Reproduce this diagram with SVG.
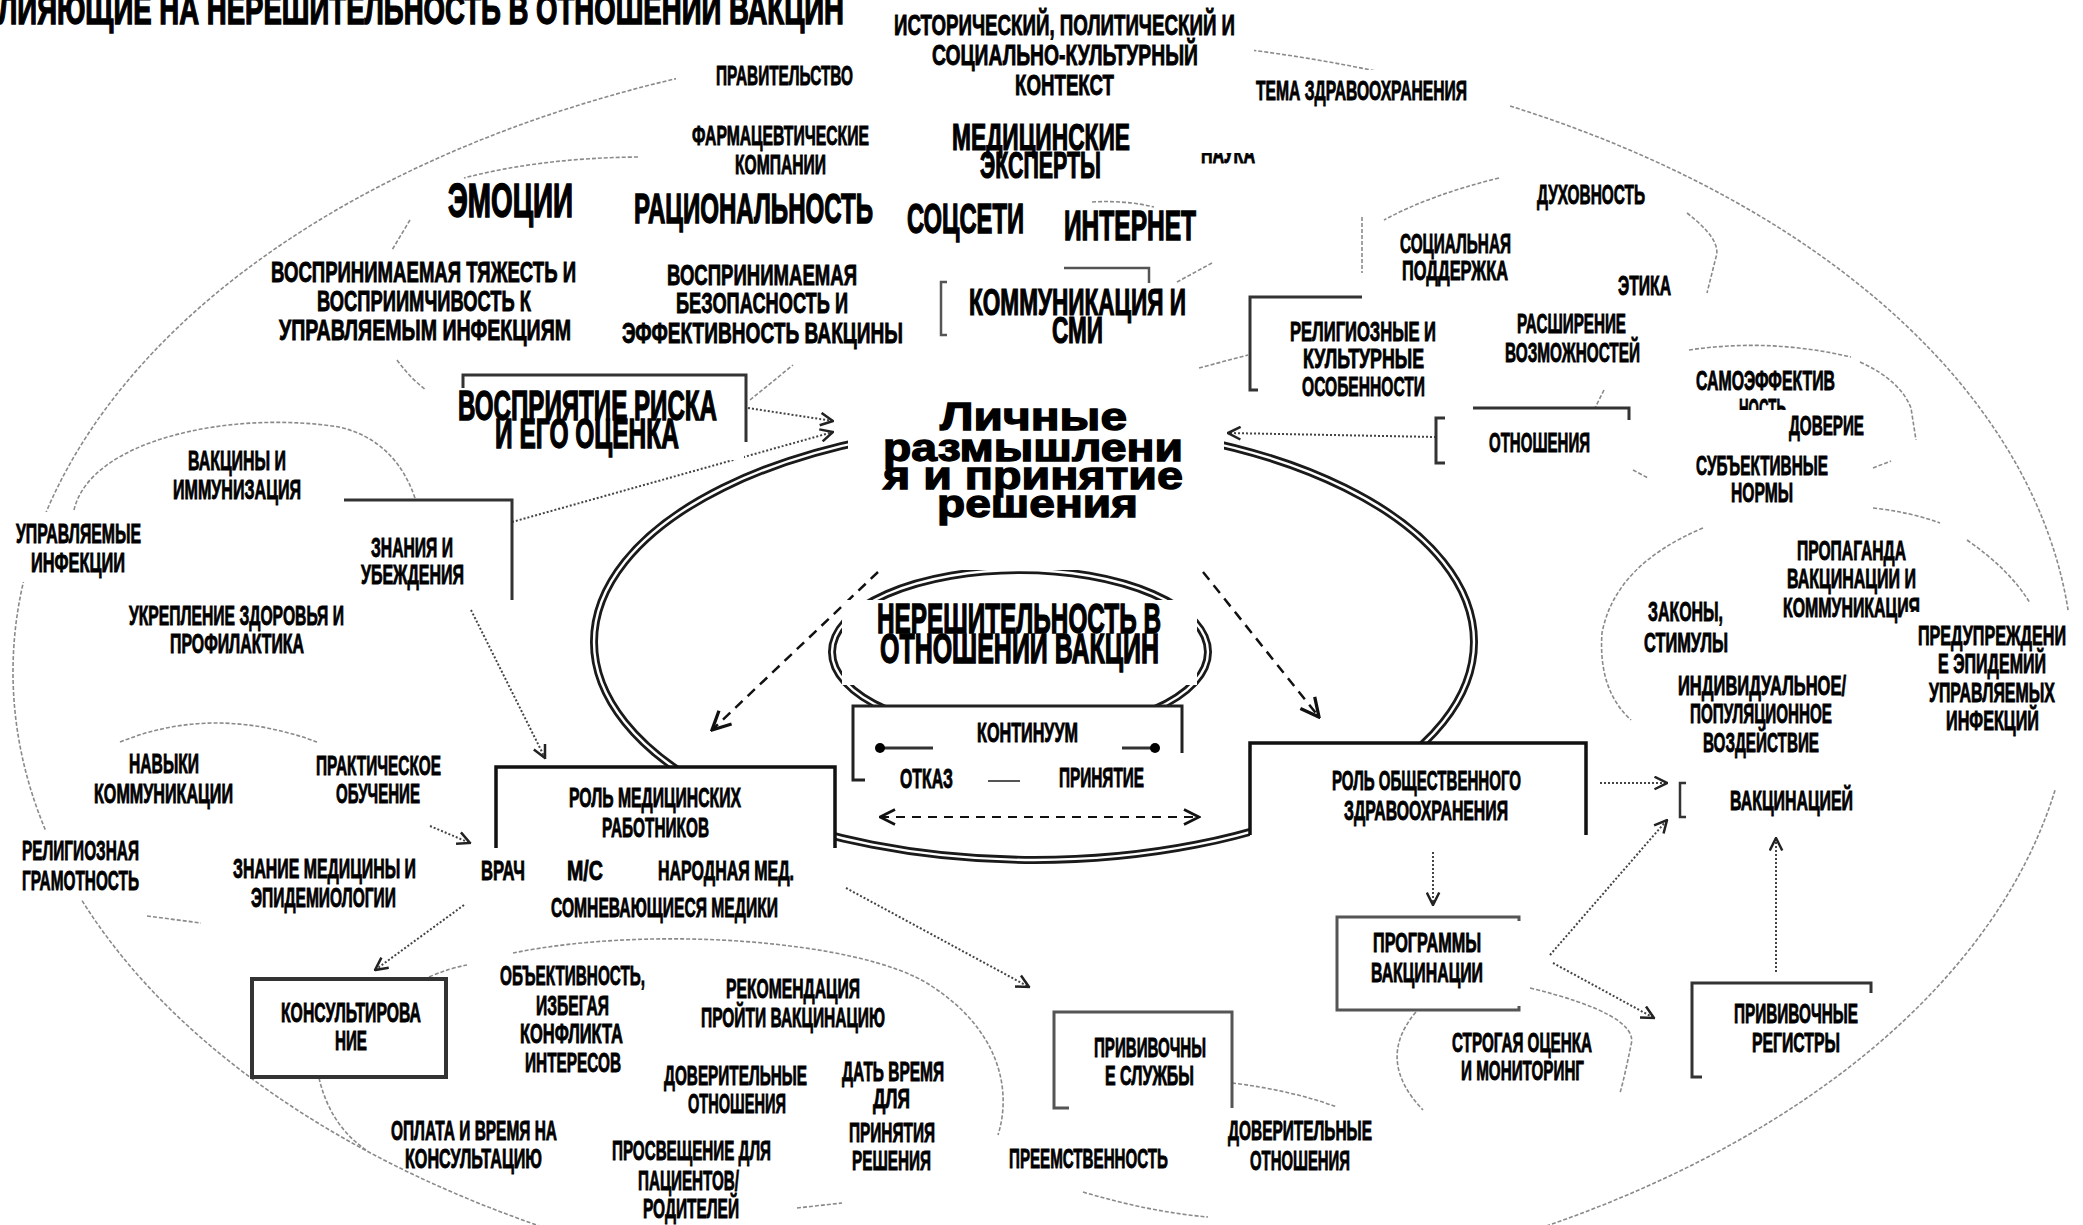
<svg xmlns="http://www.w3.org/2000/svg" width="2083" height="1225" viewBox="0 0 2083 1225">
<defs>
<style>
.t{font-family:'Liberation Sans',Arial,sans-serif;font-weight:700;fill:#000;stroke:#000;stroke-width:0.9}
.s{font-size:27px}.m{font-size:30px}.b{font-size:37px;stroke-width:1.2}.l{font-size:42px;stroke-width:1.4}.xl{font-size:48px;stroke-width:1.6}
.p{font-family:'Liberation Sans',Arial,sans-serif;font-weight:700;font-size:39px;fill:#000;stroke:#000;stroke-width:1.3}
.bg{fill:#fff}
.lay{fill:none;stroke:#8a8a8a;stroke-width:1.6;stroke-dasharray:4 2}
.dot{fill:none;stroke:#444;stroke-width:2;stroke-dasharray:2 2}
.dsh{fill:none;stroke:#111;stroke-width:2.5;stroke-dasharray:10 7}
.ln{fill:none;stroke:#111;stroke-width:3.5}
.gl{fill:none;stroke:#555;stroke-width:2.5}
.dbl{fill:none;stroke:#1a1a1a;stroke-width:8}
.dbi{fill:none;stroke:#fff;stroke-width:2.4}
</style>
<marker id="ah" viewBox="0 0 12 12" refX="11" refY="6" markerWidth="15" markerHeight="15" markerUnits="userSpaceOnUse" orient="auto"><path d="M1,1 L11,6 L1,11" fill="none" stroke="#222" stroke-width="2"/></marker>
<marker id="ahL" viewBox="0 0 12 12" refX="11" refY="6" markerWidth="22" markerHeight="22" markerUnits="userSpaceOnUse" orient="auto"><path d="M1,1 L11,6 L1,11" fill="none" stroke="#111" stroke-width="1.8"/></marker>
<marker id="ahD" viewBox="0 0 12 12" refX="11" refY="6" markerWidth="18" markerHeight="18" markerUnits="userSpaceOnUse" orient="auto-start-reverse"><path d="M1,1 L11,6 L1,11" fill="none" stroke="#111" stroke-width="1.8"/></marker>
<clipPath id="cNauka"><rect x="1195" y="153" width="70" height="15"/></clipPath>
<clipPath id="cNost"><rect x="1730" y="396" width="70" height="14"/></clipPath>
</defs>
<rect width="2083" height="1225" fill="#fff"/>

<g id="layers">
<ellipse class="lay" cx="1043" cy="672" rx="1030" ry="635"/>
<path class="lay" d="M638,157 Q540,158 464,178"/>
<path class="lay" d="M410,220 L392,250"/>
<path class="lay" d="M397,360 Q410,378 426,390"/>
<path class="lay" d="M74,510 C90,440 230,410 339,427 Q395,440 415,498"/>
<path class="lay" d="M120,742 Q214,704 317,742"/>
<path class="lay" d="M147,916 L201,923"/>
<path class="lay" d="M319,1078 Q330,1125 366,1150"/>
<path class="lay" d="M429,977 Q450,968 467,965"/>
<path class="lay" d="M513,953 C650,925 860,940 930,985 C1000,1030 1012,1090 998,1135"/>
<path class="lay" d="M1232,1083 Q1290,1090 1337,1107"/>
<path class="lay" d="M1083,1192 Q1150,1212 1208,1217"/>
<path class="lay" d="M797,1208 L842,1203"/>
<path class="lay" d="M1416,1012 Q1375,1060 1423,1110"/>
<path class="lay" d="M1530,988 Q1640,1015 1631,1045 Q1625,1075 1620,1093"/>
<path class="lay" d="M1703,528 Q1615,565 1602,633 Q1598,690 1631,720"/>
<path class="lay" d="M1873,508 Q1910,512 1940,523"/>
<path class="lay" d="M1967,540 Q2010,570 2030,603"/>
<path class="lay" d="M1633,470 L1648,478"/>
<path class="lay" d="M1873,468 L1891,461"/>
<path class="lay" d="M1860,362 Q1900,380 1911,408 L1916,440"/>
<path class="lay" d="M1689,350 Q1770,338 1851,357"/>
<path class="lay" d="M1499,178 Q1430,195 1384,220"/>
<path class="lay" d="M1687,213 Q1722,240 1716,257 L1707,293"/>
<path class="lay" d="M1604,390 L1595,408"/>
<path class="lay" d="M1092,202 Q1125,200 1154,207"/>
<path class="lay" d="M1212,263 L1177,282"/>
<path class="lay" d="M1362,217 L1362,273"/>
<path class="lay" d="M1199,368 L1248,355"/>
<path class="lay" d="M750,400 L793,365"/>
</g>

<g id="frame">
<ellipse class="dbl" cx="1034" cy="642" rx="440" ry="218"/>
<ellipse class="dbi" cx="1034" cy="642" rx="440" ry="218"/>
<ellipse class="dbl" cx="1020" cy="652" rx="188" ry="82"/>
<ellipse class="dbi" cx="1020" cy="652" rx="188" ry="82"/>
</g>

<g id="connectors">
<path class="dsh" d="M878,572 L712,730" marker-end="url(#ahL)"/>
<path class="dsh" d="M1203,572 L1319,717" marker-end="url(#ahL)"/>
<path class="dsh" d="M880,817 L1199,817" style="stroke-width:2;stroke-dasharray:9 7" marker-start="url(#ahD)" marker-end="url(#ahD)"/>
<path class="dot" d="M748,408 L833,421" marker-end="url(#ah)"/>
<path class="dot" d="M512,522 L833,432" marker-end="url(#ah)"/>
<path class="dot" d="M1436,437 L1228,433" marker-end="url(#ah)"/>
<path class="dot" d="M471,610 L545,758" marker-end="url(#ah)"/>
<path class="dot" d="M430,826 L470,843" marker-end="url(#ah)"/>
<path class="dot" d="M464,905 L375,970" marker-end="url(#ah)"/>
<path class="dot" d="M846,888 L1029,987" marker-end="url(#ah)"/>
<path class="dot" d="M1600,783 L1667,783" marker-end="url(#ah)"/>
<path class="dot" d="M1433,852 L1433,905" marker-end="url(#ah)"/>
<path class="dot" d="M1550,955 L1667,820" marker-end="url(#ah)"/>
<path class="dot" d="M1553,963 L1654,1018" marker-end="url(#ah)"/>
<path class="dot" d="M1776,972 L1776,838" marker-end="url(#ah)"/>
</g>

<g id="n-context">
<rect class="bg" x="676" y="0" width="578" height="112"/>
<text class="t m" x="894" y="35" textLength="341" lengthAdjust="spacingAndGlyphs">ИСТОРИЧЕСКИЙ, ПОЛИТИЧЕСКИЙ И</text>
<text class="t m" x="932" y="65" textLength="266" lengthAdjust="spacingAndGlyphs">СОЦИАЛЬНО-КУЛЬТУРНЫЙ</text>
<text class="t m" x="1015" y="95" textLength="99" lengthAdjust="spacingAndGlyphs">КОНТЕКСТ</text>
</g>
<g id="n-title"><text class="t l" x="-2" y="24" textLength="846" lengthAdjust="spacingAndGlyphs">ЛИЯЮЩИЕ НА НЕРЕШИТЕЛЬНОСТЬ В ОТНОШЕНИИ ВАКЦИН</text></g>
<g id="n-gov"><text class="t s" x="716" y="85" textLength="137" lengthAdjust="spacingAndGlyphs">ПРАВИТЕЛЬСТВО</text></g>
<g id="n-topic"><rect class="bg" x="1345" y="70" width="165" height="45"/><text class="t s" x="1256" y="100" textLength="211" lengthAdjust="spacingAndGlyphs">ТЕМА ЗДРАВООХРАНЕНИЯ</text></g>
<g id="n-pharma">
<text class="t s" x="692" y="145" textLength="177" lengthAdjust="spacingAndGlyphs">ФАРМАЦЕВТИЧЕСКИЕ</text>
<text class="t s" x="735" y="174" textLength="91" lengthAdjust="spacingAndGlyphs">КОМПАНИИ</text>
</g>
<g id="n-experts">
<text class="t b" x="952" y="150" textLength="178" lengthAdjust="spacingAndGlyphs">МЕДИЦИНСКИЕ</text>
<text class="t b" x="980" y="178" textLength="121" lengthAdjust="spacingAndGlyphs">ЭКСПЕРТЫ</text>
</g>
<g id="n-science" clip-path="url(#cNauka)"><text class="t s" x="1201" y="163" textLength="54" lengthAdjust="spacingAndGlyphs">НАУКА</text></g>
<g id="n-emotions"><text class="t xl" x="448" y="217" textLength="125" lengthAdjust="spacingAndGlyphs">ЭМОЦИИ</text></g>
<g id="n-rational"><text class="t l" x="634" y="223" textLength="239" lengthAdjust="spacingAndGlyphs">РАЦИОНАЛЬНОСТЬ</text></g>
<g id="n-social"><text class="t l" x="907" y="233" textLength="117" lengthAdjust="spacingAndGlyphs">СОЦСЕТИ</text></g>
<g id="n-internet"><text class="t l" x="1064" y="240" textLength="132" lengthAdjust="spacingAndGlyphs">ИНТЕРНЕТ</text></g>
<g id="n-spirit"><text class="t s" x="1537" y="204" textLength="108" lengthAdjust="spacingAndGlyphs">ДУХОВНОСТЬ</text></g>
<g id="n-support">
<text class="t s" x="1400" y="253" textLength="111" lengthAdjust="spacingAndGlyphs">СОЦИАЛЬНАЯ</text>
<text class="t s" x="1402" y="280" textLength="106" lengthAdjust="spacingAndGlyphs">ПОДДЕРЖКА</text>
</g>
<g id="n-ethics"><text class="t s" x="1618" y="295" textLength="53" lengthAdjust="spacingAndGlyphs">ЭТИКА</text></g>
<g id="n-severity">
<text class="t m" x="271" y="282" textLength="305" lengthAdjust="spacingAndGlyphs">ВОСПРИНИМАЕМАЯ ТЯЖЕСТЬ И</text>
<text class="t m" x="317" y="311" textLength="214" lengthAdjust="spacingAndGlyphs">ВОСПРИИМЧИВОСТЬ К</text>
<text class="t m" x="279" y="340" textLength="292" lengthAdjust="spacingAndGlyphs">УПРАВЛЯЕМЫМ ИНФЕКЦИЯМ</text>
</g>
<g id="n-safety">
<text class="t m" x="667" y="285" textLength="190" lengthAdjust="spacingAndGlyphs">ВОСПРИНИМАЕМАЯ</text>
<text class="t m" x="676" y="313" textLength="172" lengthAdjust="spacingAndGlyphs">БЕЗОПАСНОСТЬ И</text>
<text class="t m" x="622" y="343" textLength="281" lengthAdjust="spacingAndGlyphs">ЭФФЕКТИВНОСТЬ ВАКЦИНЫ</text>
</g>
<g id="n-media">
<path class="gl" d="M947,282 H941 V335 H947 M1064,268 H1149 V283"/>
<text class="t b" x="969" y="315" textLength="217" lengthAdjust="spacingAndGlyphs">КОММУНИКАЦИЯ И</text>
<text class="t b" x="1052" y="343" textLength="51" lengthAdjust="spacingAndGlyphs">СМИ</text>
</g>
<g id="n-religion">
<path class="ln" style="stroke:#333;stroke-width:3" d="M1258,390 H1250 V297 H1362"/>
<text class="t s" x="1290" y="341" textLength="146" lengthAdjust="spacingAndGlyphs">РЕЛИГИОЗНЫЕ И</text>
<text class="t s" x="1303" y="368" textLength="121" lengthAdjust="spacingAndGlyphs">КУЛЬТУРНЫЕ</text>
<text class="t s" x="1302" y="396" textLength="123" lengthAdjust="spacingAndGlyphs">ОСОБЕННОСТИ</text>
</g>
<g id="n-empower">
<text class="t s" x="1517" y="333" textLength="109" lengthAdjust="spacingAndGlyphs">РАСШИРЕНИЕ</text>
<text class="t s" x="1505" y="362" textLength="135" lengthAdjust="spacingAndGlyphs">ВОЗМОЖНОСТЕЙ</text>
</g>
<g id="n-selfeff">
<text class="t s" x="1696" y="390" textLength="139" lengthAdjust="spacingAndGlyphs">САМОЭФФЕКТИВ</text>
<g clip-path="url(#cNost)"><text class="t s" x="1739" y="418" textLength="47" lengthAdjust="spacingAndGlyphs">НОСТЬ</text></g>
</g>
<g id="n-trust"><text class="t s" x="1789" y="435" textLength="75" lengthAdjust="spacingAndGlyphs">ДОВЕРИЕ</text></g>
<g id="n-norms">
<text class="t s" x="1696" y="475" textLength="132" lengthAdjust="spacingAndGlyphs">СУБЪЕКТИВНЫЕ</text>
<text class="t s" x="1731" y="502" textLength="62" lengthAdjust="spacingAndGlyphs">НОРМЫ</text>
</g>
<g id="n-attitudes">
<path class="ln" style="stroke:#333;stroke-width:3" d="M1445,418 H1436 V463 H1445 M1473,408 H1629 V420"/>
<text class="t s" x="1489" y="452" textLength="101" lengthAdjust="spacingAndGlyphs">ОТНОШЕНИЯ</text>
</g>
<g id="n-risk">
<path class="ln" style="stroke:#333;stroke-width:3" d="M463,388 V375 H746 V442"/>
<rect class="bg" x="453" y="388" width="291" height="72"/>
<text class="t l" x="458" y="420" textLength="259" lengthAdjust="spacingAndGlyphs">ВОСПРИЯТИЕ РИСКА</text>
<text class="t l" x="495" y="448" textLength="184" lengthAdjust="spacingAndGlyphs">И ЕГО ОЦЕНКА</text>
</g>
<g id="n-personal">
<rect class="bg" x="848" y="392" width="376" height="178"/>
<text class="p" x="940" y="430" textLength="187" lengthAdjust="spacingAndGlyphs">Личные</text>
<text class="p" x="883" y="461" textLength="300" lengthAdjust="spacingAndGlyphs">размышлени</text>
<text class="p" x="883" y="489" textLength="300" lengthAdjust="spacingAndGlyphs">я и принятие</text>
<text class="p" x="937" y="517" textLength="201" lengthAdjust="spacingAndGlyphs">решения</text>
</g>
<g id="n-vaccines">
<text class="t s" x="188" y="470" textLength="98" lengthAdjust="spacingAndGlyphs">ВАКЦИНЫ И</text>
<text class="t s" x="173" y="499" textLength="128" lengthAdjust="spacingAndGlyphs">ИММУНИЗАЦИЯ</text>
</g>
<g id="n-vpd">
<rect class="bg" x="8" y="512" width="145" height="70"/>
<text class="t s" x="16" y="543" textLength="125" lengthAdjust="spacingAndGlyphs">УПРАВЛЯЕМЫЕ</text>
<text class="t s" x="31" y="572" textLength="94" lengthAdjust="spacingAndGlyphs">ИНФЕКЦИИ</text>
</g>
<g id="n-knowledge">
<path class="ln" style="stroke:#333;stroke-width:3" d="M344,500 H512 V600"/>
<text class="t s" x="371" y="557" textLength="82" lengthAdjust="spacingAndGlyphs">ЗНАНИЯ И</text>
<text class="t s" x="361" y="584" textLength="103" lengthAdjust="spacingAndGlyphs">УБЕЖДЕНИЯ</text>
</g>
<g id="n-promotion">
<text class="t s" x="129" y="625" textLength="215" lengthAdjust="spacingAndGlyphs">УКРЕПЛЕНИЕ ЗДОРОВЬЯ И</text>
<text class="t s" x="170" y="653" textLength="134" lengthAdjust="spacingAndGlyphs">ПРОФИЛАКТИКА</text>
</g>
<g id="n-hesitancy">
<rect class="bg" x="842" y="600" width="355" height="85"/>
<text class="t l" x="877" y="633" textLength="284" lengthAdjust="spacingAndGlyphs">НЕРЕШИТЕЛЬНОСТЬ В</text>
<text class="t l" x="880" y="663" textLength="279" lengthAdjust="spacingAndGlyphs">ОТНОШЕНИИ ВАКЦИН</text>
</g>
<g id="n-continuum">
<rect class="bg" x="853" y="706" width="329" height="74"/>
<path class="ln" style="stroke:#222;stroke-width:3" d="M865,780 H853 V706 H1182 V780"/>
<path d="M880,748 H1155" stroke="#333" stroke-width="3"/>
<circle cx="880" cy="748" r="5"/><circle cx="1155" cy="748" r="5"/>
<rect class="bg" x="933" y="712" width="189" height="40"/>
<text class="t s" x="977" y="742" textLength="101" lengthAdjust="spacingAndGlyphs">КОНТИНУУМ</text>
<rect class="bg" x="865" y="753" width="325" height="40"/>
<text class="t s" x="900" y="788" textLength="53" lengthAdjust="spacingAndGlyphs">ОТКАЗ</text>
<path d="M988,781 H1020" stroke="#555" stroke-width="2"/>
<text class="t s" x="1059" y="787" textLength="85" lengthAdjust="spacingAndGlyphs">ПРИНЯТИЕ</text>
</g>
<g id="n-advocacy">
<text class="t s" x="1797" y="560" textLength="109" lengthAdjust="spacingAndGlyphs">ПРОПАГАНДА</text>
<text class="t s" x="1787" y="588" textLength="129" lengthAdjust="spacingAndGlyphs">ВАКЦИНАЦИИ И</text>
<text class="t s" x="1783" y="617" textLength="137" lengthAdjust="spacingAndGlyphs">КОММУНИКАЦИЯ</text>
</g>
<g id="n-laws">
<text class="t s" x="1648" y="621" textLength="75" lengthAdjust="spacingAndGlyphs">ЗАКОНЫ,</text>
<text class="t s" x="1644" y="652" textLength="84" lengthAdjust="spacingAndGlyphs">СТИМУЛЫ</text>
</g>
<g id="n-prevention">
<rect class="bg" x="1905" y="612" width="178" height="178"/>
<text class="t s" x="1918" y="645" textLength="148" lengthAdjust="spacingAndGlyphs">ПРЕДУПРЕЖДЕНИ</text>
<text class="t s" x="1938" y="673" textLength="108" lengthAdjust="spacingAndGlyphs">Е ЭПИДЕМИЙ</text>
<text class="t s" x="1929" y="702" textLength="126" lengthAdjust="spacingAndGlyphs">УПРАВЛЯЕМЫХ</text>
<text class="t s" x="1946" y="730" textLength="93" lengthAdjust="spacingAndGlyphs">ИНФЕКЦИЙ</text>
</g>
<g id="n-impact">
<text class="t s" x="1678" y="695" textLength="168" lengthAdjust="spacingAndGlyphs">ИНДИВИДУАЛЬНОЕ/</text>
<text class="t s" x="1690" y="723" textLength="142" lengthAdjust="spacingAndGlyphs">ПОПУЛЯЦИОННОЕ</text>
<text class="t s" x="1703" y="752" textLength="116" lengthAdjust="spacingAndGlyphs">ВОЗДЕЙСТВИЕ</text>
</g>
<g id="n-medrole">
<rect class="bg" x="496" y="767" width="339" height="81"/>
<path class="ln" d="M496,848 V767 H835 V848"/>
<text class="t s" x="569" y="807" textLength="172" lengthAdjust="spacingAndGlyphs">РОЛЬ МЕДИЦИНСКИХ</text>
<text class="t s" x="602" y="837" textLength="107" lengthAdjust="spacingAndGlyphs">РАБОТНИКОВ</text>
</g>
<g id="n-phrole">
<rect class="bg" x="1250" y="743" width="336" height="105"/>
<path class="ln" d="M1250,835 V743 H1586 V835"/>
<text class="t s" x="1332" y="790" textLength="189" lengthAdjust="spacingAndGlyphs">РОЛЬ ОБЩЕСТВЕННОГО</text>
<text class="t s" x="1344" y="820" textLength="164" lengthAdjust="spacingAndGlyphs">ЗДРАВООХРАНЕНИЯ</text>
</g>
<g id="n-vaccination">
<path class="ln" style="stroke:#333;stroke-width:2.5" d="M1686,783 H1680 V817 H1686"/>
<text class="t s" x="1730" y="810" textLength="123" lengthAdjust="spacingAndGlyphs">ВАКЦИНАЦИЕЙ</text>
</g>
<g id="n-skills">
<text class="t s" x="129" y="773" textLength="70" lengthAdjust="spacingAndGlyphs">НАВЫКИ</text>
<text class="t s" x="94" y="803" textLength="139" lengthAdjust="spacingAndGlyphs">КОММУНИКАЦИИ</text>
</g>
<g id="n-training">
<text class="t s" x="316" y="775" textLength="125" lengthAdjust="spacingAndGlyphs">ПРАКТИЧЕСКОЕ</text>
<text class="t s" x="336" y="803" textLength="84" lengthAdjust="spacingAndGlyphs">ОБУЧЕНИЕ</text>
</g>
<g id="n-literacy">
<rect class="bg" x="10" y="830" width="140" height="70"/>
<text class="t s" x="22" y="860" textLength="117" lengthAdjust="spacingAndGlyphs">РЕЛИГИОЗНАЯ</text>
<text class="t s" x="22" y="890" textLength="117" lengthAdjust="spacingAndGlyphs">ГРАМОТНОСТЬ</text>
</g>
<g id="n-medknow">
<text class="t s" x="233" y="878" textLength="183" lengthAdjust="spacingAndGlyphs">ЗНАНИЕ МЕДИЦИНЫ И</text>
<text class="t s" x="251" y="907" textLength="145" lengthAdjust="spacingAndGlyphs">ЭПИДЕМИОЛОГИИ</text>
</g>
<g id="n-workers">
<rect class="bg" x="470" y="848" width="340" height="78"/>
<text class="t s" x="481" y="880" textLength="44" lengthAdjust="spacingAndGlyphs">ВРАЧ</text>
<text class="t s" x="567" y="880" textLength="36" lengthAdjust="spacingAndGlyphs">М/С</text>
<text class="t s" x="658" y="880" textLength="136" lengthAdjust="spacingAndGlyphs">НАРОДНАЯ МЕД.</text>
<text class="t s" x="551" y="917" textLength="227" lengthAdjust="spacingAndGlyphs">СОМНЕВАЮЩИЕСЯ МЕДИКИ</text>
</g>
<g id="n-programs">
<path class="ln" style="stroke:#555;stroke-width:3" d="M1519,921 V917 H1337 V1010 H1519 V1006"/>
<text class="t s" x="1373" y="952" textLength="108" lengthAdjust="spacingAndGlyphs">ПРОГРАММЫ</text>
<text class="t s" x="1371" y="982" textLength="112" lengthAdjust="spacingAndGlyphs">ВАКЦИНАЦИИ</text>
</g>
<g id="n-objectivity">
<text class="t s" x="500" y="985" textLength="145" lengthAdjust="spacingAndGlyphs">ОБЪЕКТИВНОСТЬ,</text>
<text class="t s" x="536" y="1015" textLength="73" lengthAdjust="spacingAndGlyphs">ИЗБЕГАЯ</text>
<text class="t s" x="520" y="1043" textLength="103" lengthAdjust="spacingAndGlyphs">КОНФЛИКТА</text>
<text class="t s" x="525" y="1072" textLength="96" lengthAdjust="spacingAndGlyphs">ИНТЕРЕСОВ</text>
</g>
<g id="n-recommend">
<text class="t s" x="726" y="998" textLength="134" lengthAdjust="spacingAndGlyphs">РЕКОМЕНДАЦИЯ</text>
<text class="t s" x="701" y="1027" textLength="184" lengthAdjust="spacingAndGlyphs">ПРОЙТИ ВАКЦИНАЦИЮ</text>
</g>
<g id="n-counsel">
<rect x="252" y="979" width="194" height="98" fill="#fff" stroke="#333" stroke-width="4"/>
<text class="t s" x="281" y="1022" textLength="140" lengthAdjust="spacingAndGlyphs">КОНСУЛЬТИРОВА</text>
<text class="t s" x="335" y="1050" textLength="32" lengthAdjust="spacingAndGlyphs">НИЕ</text>
</g>
<g id="n-registries">
<path class="ln" style="stroke:#333;stroke-width:3" d="M1871,993 V983 H1692 V1077 H1702"/>
<text class="t s" x="1734" y="1023" textLength="124" lengthAdjust="spacingAndGlyphs">ПРИВИВОЧНЫЕ</text>
<text class="t s" x="1752" y="1052" textLength="88" lengthAdjust="spacingAndGlyphs">РЕГИСТРЫ</text>
</g>
<g id="n-evaluation">
<text class="t s" x="1452" y="1052" textLength="140" lengthAdjust="spacingAndGlyphs">СТРОГАЯ ОЦЕНКА</text>
<text class="t s" x="1461" y="1080" textLength="123" lengthAdjust="spacingAndGlyphs">И МОНИТОРИНГ</text>
</g>
<g id="n-services">
<path class="ln" style="stroke:#555;stroke-width:3" d="M1069,1108 H1054 V1012 H1232 V1108"/>
<text class="t s" x="1094" y="1057" textLength="112" lengthAdjust="spacingAndGlyphs">ПРИВИВОЧНЫ</text>
<text class="t s" x="1105" y="1085" textLength="89" lengthAdjust="spacingAndGlyphs">Е СЛУЖБЫ</text>
</g>
<g id="n-trust1">
<text class="t s" x="664" y="1085" textLength="143" lengthAdjust="spacingAndGlyphs">ДОВЕРИТЕЛЬНЫЕ</text>
<text class="t s" x="688" y="1113" textLength="98" lengthAdjust="spacingAndGlyphs">ОТНОШЕНИЯ</text>
</g>
<g id="n-time">
<text class="t s" x="842" y="1081" textLength="102" lengthAdjust="spacingAndGlyphs">ДАТЬ ВРЕМЯ</text>
<text class="t s" x="873" y="1108" textLength="37" lengthAdjust="spacingAndGlyphs">ДЛЯ</text>
<text class="t s" x="849" y="1142" textLength="86" lengthAdjust="spacingAndGlyphs">ПРИНЯТИЯ</text>
<text class="t s" x="852" y="1170" textLength="79" lengthAdjust="spacingAndGlyphs">РЕШЕНИЯ</text>
</g>
<g id="n-payment">
<text class="t s" x="391" y="1140" textLength="166" lengthAdjust="spacingAndGlyphs">ОПЛАТА И ВРЕМЯ НА</text>
<text class="t s" x="405" y="1168" textLength="137" lengthAdjust="spacingAndGlyphs">КОНСУЛЬТАЦИЮ</text>
</g>
<g id="n-trust2">
<text class="t s" x="1228" y="1140" textLength="144" lengthAdjust="spacingAndGlyphs">ДОВЕРИТЕЛЬНЫЕ</text>
<text class="t s" x="1250" y="1170" textLength="100" lengthAdjust="spacingAndGlyphs">ОТНОШЕНИЯ</text>
</g>
<g id="n-education">
<text class="t s" x="612" y="1160" textLength="159" lengthAdjust="spacingAndGlyphs">ПРОСВЕЩЕНИЕ ДЛЯ</text>
<text class="t s" x="638" y="1190" textLength="101" lengthAdjust="spacingAndGlyphs">ПАЦИЕНТОВ/</text>
<text class="t s" x="643" y="1218" textLength="96" lengthAdjust="spacingAndGlyphs">РОДИТЕЛЕЙ</text>
</g>
<g id="n-continuity"><text class="t s" x="1009" y="1168" textLength="159" lengthAdjust="spacingAndGlyphs">ПРЕЕМСТВЕННОСТЬ</text></g>
</svg>
